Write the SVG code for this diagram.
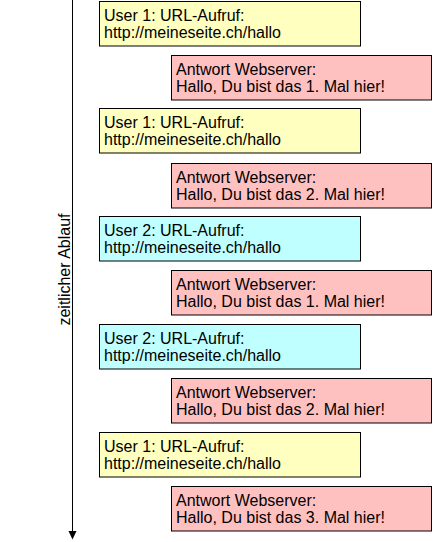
<svg xmlns="http://www.w3.org/2000/svg" width="433" height="542" viewBox="0 0 433 542">
<style>
.box{stroke:#000;stroke-width:1}
.y{fill:#ffffc0}
.r{fill:#ffc0c0}
.c{fill:#c0ffff}
text{font-family:"Liberation Sans",Arial,sans-serif;font-size:16px;fill:#000}
</style>
<rect width="433" height="542" fill="#fff"/>
<g id="connectors">
<line x1="72.5" y1="0" x2="72.5" y2="532" stroke="#000" stroke-width="1"/>
<polygon points="68.5,531 76.5,531 72.5,539.5" fill="#000"/>
<text transform="translate(69.5,269.5) rotate(-90)" text-anchor="middle">zeitlicher Ablauf</text>
</g>
<g id="req1"><rect class="box y" x="99.5" y="1.5" width="261" height="44.5"/><text x="104" y="20.5">User 1: URL-Aufruf:</text><text x="104" y="38">http://meineseite.ch/hallo</text></g>
<g id="resp1"><rect class="box r" x="171.5" y="55.5" width="260" height="44.5"/><text x="176" y="74.5">Antwort Webserver:</text><text x="176" y="92">Hallo, Du bist das 1. Mal hier!</text></g>
<g id="req2"><rect class="box y" x="99.5" y="108.5" width="261" height="44.5"/><text x="104" y="127.5">User 1: URL-Aufruf:</text><text x="104" y="145">http://meineseite.ch/hallo</text></g>
<g id="resp2"><rect class="box r" x="171.5" y="163.5" width="260" height="44.5"/><text x="176" y="182.5">Antwort Webserver:</text><text x="176" y="200">Hallo, Du bist das 2. Mal hier!</text></g>
<g id="req3"><rect class="box c" x="99.5" y="216.5" width="261" height="44.5"/><text x="104" y="235.5">User 2: URL-Aufruf:</text><text x="104" y="253">http://meineseite.ch/hallo</text></g>
<g id="resp3"><rect class="box r" x="171.5" y="270.5" width="260" height="44.5"/><text x="176" y="289.5">Antwort Webserver:</text><text x="176" y="307">Hallo, Du bist das 1. Mal hier!</text></g>
<g id="req4"><rect class="box c" x="99.5" y="324.5" width="261" height="44.5"/><text x="104" y="343.5">User 2: URL-Aufruf:</text><text x="104" y="361">http://meineseite.ch/hallo</text></g>
<g id="resp4"><rect class="box r" x="171.5" y="378.5" width="260" height="44.5"/><text x="176" y="397.5">Antwort Webserver:</text><text x="176" y="415">Hallo, Du bist das 2. Mal hier!</text></g>
<g id="req5"><rect class="box y" x="99.5" y="432.5" width="261" height="44.5"/><text x="104" y="451.5">User 1: URL-Aufruf:</text><text x="104" y="469">http://meineseite.ch/hallo</text></g>
<g id="resp5"><rect class="box r" x="171.5" y="486.5" width="260" height="44.5"/><text x="176" y="505.5">Antwort Webserver:</text><text x="176" y="523">Hallo, Du bist das 3. Mal hier!</text></g>
</svg>
